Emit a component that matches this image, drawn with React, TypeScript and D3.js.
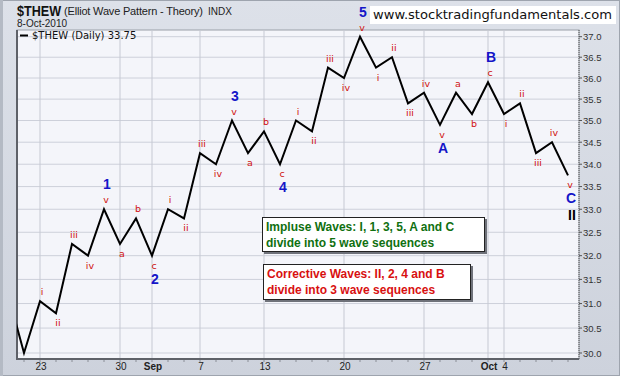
import React from "react";
import * as d3 from "d3";

const dates = [
  "2010-08-19", "2010-08-20", "2010-08-23", "2010-08-24", "2010-08-25", "2010-08-26", "2010-08-27",
  "2010-08-30", "2010-08-31", "2010-09-01", "2010-09-02", "2010-09-03", "2010-09-07", "2010-09-08",
  "2010-09-09", "2010-09-10", "2010-09-13", "2010-09-14", "2010-09-15", "2010-09-16", "2010-09-17",
  "2010-09-20", "2010-09-21", "2010-09-22", "2010-09-23", "2010-09-24", "2010-09-27", "2010-09-28",
  "2010-09-29", "2010-09-30", "2010-10-01", "2010-10-04", "2010-10-05", "2010-10-06", "2010-10-07",
  "2010-10-08",
];
const values = [
  31.2, 30.0, 31.05, 30.8, 32.25, 32.0, 33.0, 32.25, 32.8, 32.0, 33.0, 32.8, 34.25, 34.0, 35.0,
  34.25, 34.75, 34.0, 35.0, 34.75, 36.25, 36.0, 37.0, 36.25, 36.5, 35.4, 35.65, 34.9, 35.65,
  35.15, 35.9, 35.15, 35.4, 34.25, 34.5, 33.75,
];
// minor wave labels (index into dates)
const minorIdx = [2, 3, 4, 5, 6, 7, 8, 9, 10, 11, 12, 13, 14, 15, 16, 17, 18, 19, 20, 21, 22, 23, 24, 25, 26, 27, 28, 29, 30, 31, 32, 33, 34, 35];
const minorText = ["i", "ii", "iii", "iv", "v", "a", "b", "c", "i", "ii", "iii", "iv", "v", "a", "b", "c", "i", "ii", "iii", "iv", "v", "i", "ii", "iii", "iv", "v", "a", "b", "c", "i", "ii", "iii", "iv", "v"];
// major wave labels
const majorIdx = [6, 9, 14, 17, 22, 27, 30, 35];
const majorText = ["1", "2", "3", "4", "5", "A", "B", "C"];
const yTicks = d3.range(30, 37.01, 0.5);

const W = 620, H = 376;
const PL = 17, PR = 579, PT = 30, PB = 359;

export default function App() {
  const parse = d3.timeParse("%Y-%m-%d");
  const ds = dates.map((d) => parse(d) as Date);
  const x = d3.scaleLinear().domain([0, dates.length - 1]).range([8, 568]);
  const y = d3.scaleLog().domain([30, 37]).range([353, 36.7]);
  const line = d3.line<number>().x((_, i) => x(i)).y((v) => y(v));

  const xTicks: { i: number; label: string; bold: boolean }[] = [];
  ds.forEach((d, i) => {
    if (i === 0) return;
    const p = ds[i - 1];
    if (d.getMonth() !== p.getMonth()) xTicks.push({ i, label: d3.timeFormat("%b")(d), bold: true });
    else if (d.getDay() < p.getDay()) xTicks.push({ i, label: String(d.getDate()), bold: false });
  });

  const isPeak = (i: number) => i > 0 && values[i] >= values[i - 1];
  const sans = "'Liberation Sans', Arial, sans-serif";
  const dv = "'DejaVu Sans', Verdana, sans-serif";

  return (
    <svg width={W} height={H} style={{ position: "absolute", left: 0, top: 0 }} fontFamily={sans}>
      <defs>
        <linearGradient id="bg" x1="0" y1="0" x2="0" y2="1">
          <stop offset="0" stopColor="#DDE1E9" />
          <stop offset="1" stopColor="#CDD2DC" />
        </linearGradient>
        <clipPath id="clip">
          <rect x={PL} y={0} width={PR - PL} height={PB} />
        </clipPath>
      </defs>
      <rect x={0} y={0} width={W} height={H} fill="url(#bg)" />
      <rect x={0.5} y={0.5} width={W - 1} height={H - 1} fill="none" stroke="#9EA4AE" />
      <rect x={0} y={0} width={3} height={H} fill="#B4BAC4" />

      {/* header */}
      <text x={17} y={16} fontSize={14} fontWeight="bold" fill="#111" textLength={44} lengthAdjust="spacingAndGlyphs">$THEW</text>
      <text x={64} y={15} fontSize={11} fill="#222" textLength={139}>(Elliot Wave Pattern - Theory)</text>
      <text x={208} y={15} fontSize={10} fill="#222">INDX</text>
      <text x={17} y={27} fontSize={10} fill="#222">8-Oct-2010</text>

      {/* plot area */}
      <rect x={PL} y={PT} width={PR - PL} height={PB - PT} fill="#F4F5FA" stroke="#9A9FA8" />
      {yTicks.map((t) => (
        <line key={t} x1={PL} x2={PR} y1={y(t)} y2={y(t)} stroke="#CDD0DA" />
      ))}
      {xTicks.map((t) => (
        <line key={t.i} x1={x(t.i)} x2={x(t.i)} y1={PT} y2={PB} stroke="#C6C9D3" />
      ))}
      <line x1={PR} x2={PR} y1={PT} y2={PB} stroke="#555" strokeDasharray="1,1" />
      <line x1={PL} x2={PL} y1={PT} y2={PB + 1} stroke="#5E6168" strokeWidth={2} />
      <line x1={PL} x2={PR} y1={PB} y2={PB} stroke="#5E6168" strokeWidth={2} />

      {/* legend */}
      <line x1={20} x2={28} y1={35.5} y2={35.5} stroke="#000" strokeWidth={2} />
      <text x={32} y={39} fontSize={10} fontFamily={dv} fill="#111">$THEW (Daily) 33.75</text>

      {/* y axis */}
      {yTicks.map((t) => (
        <g key={t}>
          <line x1={PR} x2={PR + 3} y1={y(t)} y2={y(t)} stroke="#555" />
          <text x={583} y={y(t) + 3.5} fontSize={9.5} fill="#333">{t.toFixed(1)}</text>
        </g>
      ))}

      {/* x axis */}
      {ds.map((_, i) => (
        x(i) > PL ? <line key={i} x1={x(i)} x2={x(i)} y1={PB + 1} y2={PB + 3} stroke="#8A8E96" /> : null
      ))}
      {xTicks.map((t) => (
        <text key={t.i} x={x(t.i) + (t.bold ? 1 : 1)} y={370} fontSize={10} fontWeight={t.bold ? "bold" : "normal"}
          textAnchor="middle" fill="#222">{t.label}</text>
      ))}

      {/* price line */}
      <path d={line(values) || ""} fill="none" stroke="#000" strokeWidth={2} clipPath="url(#clip)" strokeLinejoin="miter" />

      {/* minor labels */}
      {minorIdx.map((i, k) => (
        <text key={k} x={x(i) + 2} y={isPeak(i) ? y(values[i]) - 6 : y(values[i]) + 13} fontSize={9.5}
          fill="#D01010" textAnchor="middle" fontFamily={dv}>{minorText[k]}</text>
      ))}
      {/* major labels */}
      {majorIdx.map((i, k) => (
        <text key={k} x={x(i) + 3} y={isPeak(i) ? y(values[i]) - 20 : y(values[i]) + 28} fontSize={14}
          fontWeight="bold" fill="#1515C8" textAnchor="middle">{majorText[k]}</text>
      ))}
      <text x={x(35) + 4} y={y(values[35]) + 45} fontSize={14} fontWeight="bold" fill="#000" textAnchor="middle">II</text>

      {/* url box */}
      <rect x={370} y={6} width={246} height={18} fill="#fff" />
      <text x={373} y={19} fontSize={13} fontFamily={dv} fill="#111" textLength={239} lengthAdjust="spacingAndGlyphs">www.stocktradingfundamentals.com</text>

      {/* annotation boxes */}
      <rect x={264} y={219} width={223} height={35} fill="#6F727A" />
      <rect x={262.5} y={217.5} width={222} height={34} fill="#fff" stroke="#222" />
      <text x={266} y={231} fontSize={12} fontWeight="bold" fill="#107010">Impluse Waves: I, 1, 3, 5, A and C</text>
      <text x={266} y={247} fontSize={12} fontWeight="bold" fill="#107010">divide into 5 wave sequences</text>

      <rect x={265} y={266} width={208} height={36} fill="#6F727A" />
      <rect x={263.5} y={264.5} width={207} height={35} fill="#fff" stroke="#222" />
      <text x={267} y={278} fontSize={12} fontWeight="bold" fill="#D81010">Corrective Waves: II, 2, 4 and B</text>
      <text x={267} y={294} fontSize={12} fontWeight="bold" fill="#D81010">divide into 3 wave sequences</text>
    </svg>
  );
}
